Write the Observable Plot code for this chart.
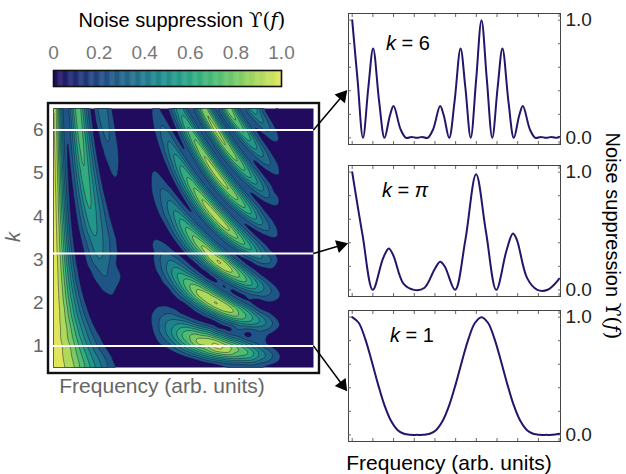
<!DOCTYPE html>
<html><head><meta charset="utf-8">
<script src="https://cdn.jsdelivr.net/npm/d3@7"></script>
<script src="https://cdn.jsdelivr.net/npm/@observablehq/plot@0.6"></script>
<style>
body{margin:0;background:#fff;}
#root{position:relative;width:626px;height:474px;overflow:hidden;font-family:"Liberation Sans",Arial,sans-serif;background:#fff;}
#root svg{position:absolute;overflow:visible;}
.math{font-family:"DejaVu Serif",serif;}
</style></head><body><div id="root"></div>
<script>
// ---------- data ----------
const colorTicks = [0, 0.2, 0.4, 0.6, 0.8, 1.0];
const kTicks = [1, 2, 3, 4, 5, 6];
const contourLevels = [0.1, 0.2, 0.3, 0.4, 0.5, 0.6, 0.7, 0.8, 0.9];
const markedK = [6, Math.PI, 1];
const panelNames = ["6", "π", "1"];
const freqTicks = [0, 0.16, 0.32, 0.48, 0.64, 0.8, 0.96, 1.12, 1.28, 1.44, 1.6];
const valueTicks = [0, 0.2, 0.4, 0.6, 0.8, 1.0];
const rampColors = ["#200b5e","#1f2c73","#1f4782","#1f6189","#1e798c","#1f908b","#29a684","#47b975","#74c965","#abd85b","#e0e55b"];

// line panels: [frequency, suppression]
const curveK6 = [[0,1],[0.0417,0.49],[0.0833,0],[0.125,0.43],[0.162,0.76],[0.2083,0.31],[0.25,0],[0.2917,0.19],[0.32,0.27],[0.375,0.07],[0.4167,0],[0.4583,0.008],[0.5,0],[0.5417,0.008],[0.5833,0],[0.625,0.07],[0.68,0.27],[0.7083,0.19],[0.75,0],[0.7917,0.31],[0.838,0.76],[0.875,0.43],[0.9167,0],[0.9583,0.49],[1,1],[1.0417,0.49],[1.0833,0],[1.125,0.43],[1.162,0.76],[1.2083,0.31],[1.25,0],[1.2917,0.19],[1.32,0.27],[1.375,0.07],[1.4167,0],[1.4583,0.008],[1.5,0],[1.5417,0.008],[1.5833,0],[1.6,0.009]];
const curveKpi = [[0,1],[0.0796,0.469],[0.159,0],[0.2387,0.268],[0.283,0.352],[0.3183,0.292],[0.3979,0.05],[0.4775,0],[0.557,0.016],[0.6366,0.173],[0.68,0.239],[0.716,0.198],[0.7958,0],[0.8754,0.425],[0.958,0.982],[1.0345,0.494],[1.114,0],[1.194,0.337],[1.243,0.478],[1.273,0.427],[1.353,0.0995],[1.432,0],[1.512,0.001],[1.5915,0.08],[1.6,0.095]];
const curveK1 = [[0,1],[0.05,0.952],[0.1,0.818],[0.15,0.63],[0.2,0.429],[0.25,0.25],[0.3,0.119],[0.35,0.042],[0.4,0.009],[0.45,0.0006],[0.5,0],[0.55,0.0006],[0.6,0.009],[0.65,0.042],[0.7,0.119],[0.75,0.25],[0.8,0.429],[0.85,0.63],[0.9,0.818],[0.95,0.952],[1,1],[1.05,0.952],[1.1,0.818],[1.15,0.63],[1.2,0.429],[1.25,0.25],[1.3,0.119],[1.35,0.042],[1.4,0.009],[1.45,0.0006],[1.5,0],[1.55,0.0006],[1.6,0.009]];

// heat map: rows of k, each with [frequency, suppression] crests and troughs
const heatK = [0.5,0.625,0.75,0.875,1,1.125,1.25,1.375,1.5,1.625,1.75,1.875,2,2.125,2.25,2.375,2.5,2.625,2.75,2.875,3,3.125,3.25,3.375,3.5,3.625,3.75,3.875,4,4.125,4.25,4.375,4.5,4.625,4.75,4.875,5,5.125,5.25,5.375,5.5,5.625,5.75,5.875,6,6.125,6.25,6.375,6.5];
const heatProfiles = [
 [[0,1],[0.125,0.82],[0.25,0.43],[0.375,0.11],[0.5,0],[1.0,0],[1.25,0.07],[1.5,0],[1.6,0]],
 [[0,1],[0.125,0.8],[0.25,0.39],[0.375,0.08],[0.5,0],[0.8,0],[0.9,0.035],[1.0,0.15],[1.1,0.28],[1.2,0.33],[1.3,0.24],[1.4,0.08],[1.5,0],[1.6,0]],
 [[0,1],[0.125,0.78],[0.25,0.35],[0.375,0.06],[0.5,0],[0.667,0],[0.8,0.06],[0.9,0.24],[1.0,0.5],[1.1,0.66],[1.2,0.59],[1.3,0.34],[1.4,0.09],[1.5,0],[1.6,0]],
 [[0,1],[0.125,0.76],[0.25,0.3],[0.375,0.04],[0.5,0],[0.6,0],[0.7,0.04],[0.8,0.23],[0.9,0.56],[1.0,0.85],[1.07,0.91],[1.2,0.64],[1.3,0.28],[1.4,0.06],[1.5,0],[1.6,0]],
 [[0,1],[0.1,0.82],[0.2,0.43],[0.25,0.25],[0.3,0.12],[0.4,0.01],[0.5,0],[0.6,0.01],[0.7,0.12],[0.8,0.43],[0.9,0.82],[1.0,1],[1.1,0.82],[1.2,0.43],[1.3,0.12],[1.4,0.01],[1.5,0],[1.6,0.01]],
 [[0,1],[0.111,0.75],[0.222,0.29],[0.333,0.04],[0.444,0],[0.5,0],[0.6,0.03],[0.7,0.21],[0.8,0.59],[0.9,0.9],[0.95,0.93],[1.0,0.85],[1.1,0.48],[1.2,0.14],[1.333,0],[1.5,0],[1.6,0]],
 [[0,1],[0.1,0.77],[0.2,0.33],[0.3,0.05],[0.4,0],[0.5,0],[0.6,0.05],[0.7,0.3],[0.8,0.66],[0.875,0.78],[0.95,0.67],[1.0,0.5],[1.1,0.13],[1.2,0],[1.35,0.05],[1.5,0],[1.6,0]],
 [[0,1],[0.091,0.79],[0.182,0.36],[0.273,0.06],[0.364,0],[0.5,0],[0.6,0.07],[0.7,0.34],[0.825,0.6],[0.9,0.48],[1.0,0.15],[1.091,0],[1.2,0.14],[1.28,0.21],[1.4,0.09],[1.5,0],[1.6,0]],
 [[0,1],[0.1,0.72],[0.167,0.38],[0.25,0.07],[0.333,0],[0.5,0],[0.6,0.09],[0.7,0.34],[0.775,0.44],[0.85,0.33],[0.9,0.19],[1.0,0],[1.1,0.19],[1.15,0.33],[1.225,0.44],[1.3,0.34],[1.4,0.09],[1.5,0],[1.6,0]],
 [[0,1],[0.077,0.8],[0.154,0.39],[0.231,0.08],[0.308,0],[0.5,0],[0.6,0.09],[0.65,0.2],[0.73,0.3],[0.8,0.23],[0.85,0.1],[0.923,0],[1.0,0.15],[1.05,0.36],[1.1,0.56],[1.16,0.67],[1.25,0.5],[1.3,0.3],[1.4,0.04],[1.5,0],[1.6,0]],
 [[0,1],[0.07,0.82],[0.143,0.4],[0.21,0.1],[0.286,0],[0.4,0.03],[0.5,0],[0.6,0.09],[0.69,0.2],[0.8,0.06],[0.857,0],[0.95,0.24],[1.0,0.5],[1.05,0.75],[1.1,0.86],[1.2,0.59],[1.3,0.15],[1.429,0],[1.5,0],[1.6,0]],
 [[0,1],[0.067,0.82],[0.133,0.42],[0.2,0.1],[0.267,0],[0.4,0.05],[0.5,0],[0.65,0.12],[0.8,0],[0.85,0.07],[0.9,0.28],[0.95,0.59],[1.0,0.85],[1.05,0.97],[1.1,0.87],[1.15,0.62],[1.2,0.33],[1.25,0.11],[1.333,0],[1.5,0],[1.6,0]],
 [[0,1],[0.06,0.83],[0.125,0.43],[0.19,0.09],[0.25,0],[0.375,0.07],[0.5,0],[0.625,0.07],[0.75,0],[0.8,0.06],[0.85,0.27],[0.9,0.59],[0.95,0.88],[1.0,1],[1.05,0.88],[1.1,0.59],[1.15,0.27],[1.2,0.06],[1.25,0],[1.375,0.07],[1.5,0],[1.6,0]],
 [[0,1],[0.059,0.82],[0.118,0.43],[0.176,0.11],[0.235,0],[0.36,0.1],[0.5,0],[0.706,0],[0.8,0.23],[0.85,0.53],[0.9,0.84],[0.95,0.97],[1.0,0.85],[1.05,0.55],[1.1,0.22],[1.176,0],[1.25,0.11],[1.31,0.19],[1.4,0.09],[1.5,0],[1.6,0]],
 [[0,1],[0.055,0.83],[0.111,0.44],[0.17,0.1],[0.222,0],[0.35,0.12],[0.5,0],[0.667,0],[0.75,0.16],[0.8,0.43],[0.85,0.73],[0.905,0.9],[0.95,0.8],[1.0,0.5],[1.05,0.17],[1.111,0],[1.2,0.23],[1.26,0.35],[1.35,0.2],[1.4,0.08],[1.5,0],[1.6,0]],
 [[0,1],[0.053,0.83],[0.105,0.45],[0.158,0.11],[0.2105,0],[0.335,0.16],[0.5,0],[0.632,0],[0.7,0.08],[0.75,0.3],[0.8,0.59],[0.87,0.8],[0.9,0.74],[0.95,0.47],[1.0,0.15],[1.053,0],[1.1,0.11],[1.15,0.35],[1.22,0.53],[1.3,0.32],[1.35,0.13],[1.474,0],[1.5,0],[1.6,0]],
 [[0,1],[0.05,0.83],[0.1,0.45],[0.15,0.12],[0.2,0],[0.33,0.19],[0.5,0],[0.6,0],[0.7,0.17],[0.75,0.43],[0.825,0.7],[0.9,0.45],[0.95,0.14],[1.0,0],[1.05,0.14],[1.1,0.45],[1.175,0.7],[1.25,0.43],[1.3,0.17],[1.4,0],[1.5,0],[1.6,0]],
 [[0,1],[0.048,0.835],[0.095,0.46],[0.143,0.12],[0.19,0],[0.32,0.22],[0.5,0],[0.571,0],[0.65,0.08],[0.7,0.26],[0.75,0.5],[0.79,0.59],[0.85,0.44],[0.9,0.16],[0.952,0],[1.0,0.15],[1.05,0.5],[1.12,0.81],[1.2,0.52],[1.25,0.2],[1.333,0],[1.5,0],[1.6,0]],
 [[0,1],[0.045,0.84],[0.091,0.46],[0.136,0.14],[0.182,0],[0.305,0.25],[0.5,0],[0.545,0],[0.65,0.13],[0.7,0.33],[0.765,0.49],[0.85,0.19],[0.909,0],[0.95,0.12],[1.0,0.5],[1.05,0.86],[1.08,0.93],[1.15,0.61],[1.2,0.23],[1.273,0],[1.35,0.08],[1.5,0],[1.6,0]],
 [[0,1],[0.0435,0.84],[0.087,0.46],[0.13,0.12],[0.174,0],[0.3,0.28],[0.5,0],[0.522,0],[0.65,0.17],[0.735,0.4],[0.8,0.23],[0.87,0],[0.95,0.43],[1.0,0.85],[1.04,0.98],[1.1,0.69],[1.15,0.26],[1.217,0],[1.335,0.19],[1.5,0],[1.6,0]],
 [[0,1],[0.04,0.85],[0.083,0.47],[0.125,0.14],[0.167,0],[0.25,0.25],[0.29,0.32],[0.35,0.2],[0.4,0.06],[0.5,0],[0.6,0.06],[0.65,0.2],[0.71,0.32],[0.75,0.25],[0.833,0],[0.9,0.31],[0.95,0.78],[1.0,1],[1.05,0.78],[1.1,0.31],[1.167,0],[1.25,0.25],[1.29,0.32],[1.35,0.2],[1.4,0.06],[1.5,0],[1.6,0]],
 [[0,1],[0.04,0.84],[0.08,0.47],[0.12,0.13],[0.16,0],[0.28,0.35],[0.48,0],[0.5,0],[0.685,0.25],[0.8,0],[0.962,0.98],[1.12,0],[1.25,0.46],[1.44,0],[1.5,0],[1.6,0]],
 [[0,1],[0.038,0.84],[0.077,0.47],[0.115,0.14],[0.154,0],[0.27,0.38],[0.462,0],[0.5,0],[0.67,0.19],[0.769,0],[0.93,0.95],[1.077,0],[1.21,0.6],[1.385,0],[1.5,0],[1.6,0]],
 [[0,1],[0.037,0.84],[0.074,0.47],[0.111,0.13],[0.148,0],[0.265,0.4],[0.444,0],[0.5,0],[0.645,0.14],[0.741,0],[0.899,0.89],[1.037,0],[1.167,0.72],[1.333,0],[1.5,0],[1.6,0]],
 [[0,1],[0.036,0.84],[0.071,0.48],[0.107,0.14],[0.143,0],[0.258,0.43],[0.429,0],[0.5,0],[0.62,0.1],[0.714,0],[0.87,0.82],[1.0,0],[1.13,0.82],[1.286,0],[1.38,0.1],[1.5,0],[1.6,0]],
 [[0,1],[0.0345,0.845],[0.069,0.48],[0.103,0.13],[0.138,0],[0.25,0.46],[0.414,0],[0.5,0],[0.69,0],[0.843,0.76],[0.966,0],[1.095,0.91],[1.241,0],[1.34,0.19],[1.5,0],[1.6,0]],
 [[0,1],[0.033,0.85],[0.067,0.48],[0.1,0.14],[0.133,0],[0.242,0.49],[0.4,0],[0.5,0],[0.667,0],[0.816,0.68],[0.933,0],[1.062,0.96],[1.2,0],[1.3,0.3],[1.467,0],[1.5,0],[1.6,0]],
 [[0,1],[0.032,0.845],[0.0645,0.48],[0.097,0.13],[0.129,0],[0.236,0.51],[0.387,0],[0.5,0],[0.645,0],[0.792,0.61],[0.903,0],[1.031,0.99],[1.161,0],[1.263,0.42],[1.419,0],[1.5,0],[1.6,0]],
 [[0,1],[0.031,0.85],[0.063,0.48],[0.094,0.14],[0.125,0],[0.23,0.53],[0.375,0],[0.5,0],[0.625,0],[0.77,0.53],[0.875,0],[1.0,1],[1.125,0],[1.23,0.53],[1.375,0],[1.5,0],[1.6,0]],
 [[0,1],[0.03,0.846],[0.0606,0.48],[0.091,0.13],[0.121,0],[0.225,0.55],[0.364,0],[0.5,0],[0.606,0],[0.748,0.46],[0.848,0],[0.971,0.99],[1.091,0],[1.197,0.64],[1.333,0],[1.5,0],[1.6,0]],
 [[0,1],[0.029,0.85],[0.059,0.48],[0.088,0.14],[0.118,0],[0.219,0.57],[0.353,0],[0.5,0],[0.588,0],[0.73,0.4],[0.824,0],[0.944,0.97],[1.059,0],[1.165,0.74],[1.294,0],[1.375,0.11],[1.5,0],[1.6,0]],
 [[0,1],[0.0286,0.847],[0.057,0.48],[0.086,0.14],[0.114,0],[0.214,0.59],[0.343,0],[0.5,0],[0.571,0],[0.711,0.34],[0.8,0],[0.919,0.93],[1.029,0],[1.135,0.82],[1.257,0],[1.345,0.19],[1.486,0],[1.5,0],[1.6,0]],
 [[0,1],[0.028,0.85],[0.056,0.49],[0.083,0.14],[0.111,0],[0.209,0.61],[0.333,0],[0.5,0],[0.556,0],[0.695,0.29],[0.778,0],[0.895,0.89],[1.0,0],[1.105,0.89],[1.222,0],[1.305,0.29],[1.444,0],[1.5,0],[1.6,0]],
 [[0,1],[0.027,0.85],[0.054,0.49],[0.081,0.14],[0.108,0],[0.204,0.62],[0.324,0],[0.5,0],[0.541,0],[0.67,0.235],[0.757,0],[0.872,0.82],[0.973,0],[1.077,0.94],[1.189,0],[1.277,0.385],[1.405,0],[1.5,0],[1.6,0]],
 [[0,1],[0.026,0.85],[0.053,0.49],[0.079,0.14],[0.105,0],[0.2,0.64],[0.316,0],[0.39,0.09],[0.5,0],[0.526,0],[0.66,0.2],[0.737,0],[0.85,0.79],[0.947,0],[1.05,0.97],[1.158,0],[1.248,0.48],[1.368,0],[1.5,0],[1.6,0]],
 [[0,1],[0.0256,0.85],[0.0513,0.49],[0.077,0.14],[0.1026,0],[0.195,0.655],[0.3077,0],[0.38,0.11],[0.5,0],[0.5128,0],[0.643,0.157],[0.718,0],[0.829,0.705],[0.923,0],[1.025,0.99],[1.128,0],[1.219,0.58],[1.333,0],[1.5,0],[1.6,0]],
 [[0,1],[0.025,0.85],[0.05,0.49],[0.075,0.14],[0.1,0],[0.19,0.67],[0.3,0],[0.37,0.13],[0.5,0],[0.63,0.13],[0.7,0],[0.81,0.67],[0.9,0],[1.0,1],[1.1,0],[1.19,0.67],[1.3,0],[1.37,0.13],[1.5,0],[1.6,0]],
 [[0,1],[0.0244,0.85],[0.0488,0.49],[0.073,0.14],[0.0976,0],[0.187,0.68],[0.2927,0],[0.365,0.14],[0.4878,0],[0.5,0],[0.615,0.1],[0.683,0],[0.79,0.61],[0.878,0],[0.976,0.99],[1.073,0],[1.164,0.76],[1.268,0],[1.345,0.2],[1.463,0],[1.5,0],[1.6,0]],
 [[0,1],[0.024,0.85],[0.048,0.49],[0.071,0.14],[0.095,0],[0.182,0.7],[0.286,0],[0.36,0.16],[0.476,0],[0.5,0],[0.667,0],[0.773,0.55],[0.857,0],[0.954,0.98],[1.048,0],[1.137,0.82],[1.238,0],[1.313,0.28],[1.429,0],[1.5,0],[1.6,0]],
 [[0,1],[0.023,0.85],[0.0465,0.49],[0.07,0.14],[0.093,0],[0.179,0.71],[0.279,0],[0.35,0.18],[0.465,0],[0.5,0],[0.651,0],[0.756,0.5],[0.837,0],[0.932,0.955],[1.023,0],[1.112,0.88],[1.209,0],[1.287,0.36],[1.395,0],[1.5,0],[1.6,0]],
 [[0,1],[0.023,0.85],[0.045,0.49],[0.068,0.14],[0.091,0],[0.175,0.72],[0.273,0],[0.345,0.2],[0.455,0],[0.5,0],[0.636,0],[0.739,0.45],[0.818,0],[0.912,0.92],[1.0,0],[1.088,0.92],[1.182,0],[1.261,0.45],[1.364,0],[1.5,0],[1.6,0]],
 [[0,1],[0.022,0.85],[0.0444,0.49],[0.0667,0.14],[0.0889,0],[0.172,0.73],[0.2667,0],[0.34,0.215],[0.4444,0],[0.5,0],[0.622,0],[0.724,0.4],[0.8,0],[0.893,0.886],[0.978,0],[1.065,0.96],[1.156,0],[1.234,0.53],[1.333,0],[1.5,0],[1.6,0]],
 [[0,1],[0.022,0.85],[0.0435,0.49],[0.065,0.14],[0.087,0],[0.168,0.75],[0.261,0],[0.329,0.24],[0.435,0],[0.5,0],[0.609,0],[0.71,0.35],[0.783,0],[0.874,0.85],[0.957,0],[1.042,0.98],[1.13,0],[1.209,0.61],[1.304,0],[1.372,0.13],[1.478,0],[1.5,0],[1.6,0]],
 [[0,1],[0.0213,0.85],[0.0426,0.49],[0.0638,0.14],[0.0851,0],[0.165,0.75],[0.2553,0],[0.324,0.25],[0.4255,0],[0.5,0],[0.5957,0],[0.695,0.33],[0.766,0],[0.856,0.8],[0.936,0],[1.021,0.99],[1.106,0],[1.185,0.69],[1.277,0],[1.345,0.2],[1.447,0],[1.5,0],[1.6,0]],
 [[0,1],[0.021,0.85],[0.042,0.49],[0.0625,0.14],[0.083,0],[0.162,0.76],[0.25,0],[0.32,0.27],[0.417,0],[0.5,0],[0.583,0],[0.68,0.27],[0.75,0],[0.838,0.76],[0.917,0],[1.0,1],[1.083,0],[1.162,0.76],[1.25,0],[1.32,0.27],[1.417,0],[1.5,0],[1.6,0]],
 [[0,1],[0.0204,0.85],[0.0408,0.49],[0.0612,0.14],[0.0816,0],[0.1585,0.77],[0.2449,0],[0.3125,0.29],[0.4082,0],[0.5,0],[0.5714,0],[0.669,0.233],[0.7347,0],[0.822,0.69],[0.898,0],[0.98,0.99],[1.0612,0],[1.139,0.81],[1.2245,0],[1.294,0.35],[1.3878,0],[1.5,0],[1.6,0]],
 [[0,1],[0.02,0.85],[0.04,0.49],[0.06,0.14],[0.08,0],[0.156,0.78],[0.24,0],[0.307,0.31],[0.4,0],[0.5,0],[0.56,0],[0.657,0.2],[0.72,0],[0.806,0.66],[0.88,0],[0.961,0.98],[1.04,0],[1.117,0.87],[1.2,0],[1.27,0.42],[1.36,0],[1.5,0],[1.6,0]],
 [[0,1],[0.0196,0.85],[0.0392,0.49],[0.0588,0.14],[0.0784,0],[0.1527,0.78],[0.2353,0],[0.302,0.31],[0.3922,0],[0.5,0],[0.549,0],[0.643,0.17],[0.706,0],[0.79,0.57],[0.863,0],[0.942,0.97],[1.0196,0],[1.096,0.91],[1.176,0],[1.247,0.5],[1.333,0],[1.39,0.09],[1.49,0],[1.5,0],[1.6,0]],
 [[0,1],[0.019,0.85],[0.0385,0.49],[0.058,0.14],[0.077,0],[0.15,0.79],[0.231,0],[0.30,0.34],[0.385,0],[0.5,0],[0.538,0],[0.633,0.14],[0.692,0],[0.776,0.57],[0.846,0],[0.925,0.94],[1.0,0],[1.075,0.94],[1.154,0],[1.224,0.57],[1.308,0],[1.367,0.14],[1.462,0],[1.5,0],[1.6,0]]
];

// ---------- build ----------
const root = document.getElementById("root");
const ramp = d3.piecewise(d3.interpolateRgb, rampColors);
const bandColors = contourLevels.map(t => ramp(0.25 + (t - 0.1) / 0.8 * 0.75));
const FONT = "Liberation Sans, Arial, sans-serif";
function put(svg, left, top) { svg.style.left = left + "px"; svg.style.top = top + "px"; root.appendChild(svg); return svg; }
function label(html, cx, cy, size, color, rotate = 0) {
  const d = document.createElement("div");
  d.innerHTML = html;
  d.style.cssText = `position:absolute;left:${cx}px;top:${cy}px;transform:translate(-50%,-50%) rotate(${rotate}deg);font-size:${size}px;color:${color};white-space:nowrap;line-height:1;`;
  root.appendChild(d);
}
const UPS = `<span class="math">ϒ(<i>f</i>)</span>`;

// colour bar
const cbSteps = d3.range(0, 1, 0.004);
put(Plot.plot({
  width: 330, height: 92, marginLeft: 53, marginRight: 49, marginTop: 70, marginBottom: 6,
  style: {fontFamily: FONT, background: "transparent"},
  x: {domain: [0, 1], axis: null}, y: {domain: [0, 1], axis: null},
  color: {type: "linear", domain: [0, 1], interpolate: ramp},
  marks: [
    Plot.rect(cbSteps, {x1: d => d, x2: d => d + 0.0055, y1: 0, y2: 1, fill: d => d + 0.002}),
    Plot.frame({stroke: "#111", strokeWidth: 1.6}),
    Plot.axisX(colorTicks, {anchor: "top", tickSize: 0, tickPadding: 12, tickFormat: d => d === 0 ? "0" : d.toFixed(1), fontSize: 19, fill: "#777"})
  ]
}), 0, 0);
label(`Noise suppression ${UPS}`, 182, 20, 20, "#000");

// heat map
const heatPoints = heatK.flatMap((k, i) => heatProfiles[i].map(([u, v]) => ({u, k, v})));
const heat = put(Plot.plot({
  width: 330, height: 300, marginLeft: 53, marginRight: 17, marginTop: 13, marginBottom: 28,
  style: {fontFamily: FONT, background: "transparent"},
  x: {domain: [0, 1.6], axis: null},
  y: {domain: [0.5, 6.5], axis: null},
  color: {type: "ordinal", domain: contourLevels, range: bandColors},
  marks: [
    Plot.frame({fill: rampColors[0], stroke: null}),
    Plot.contour(heatPoints, {x: "u", y: "k", fill: "v", interpolate: "barycentric", thresholds: contourLevels, pixelSize: 1, blur: 2, stroke: "#15152a", strokeWidth: 0.6, strokeOpacity: 0.75}),
    Plot.ruleY(markedK, {stroke: "white", strokeWidth: 2}),
    Plot.frame({inset: -5.5, stroke: "#111", strokeWidth: 2.4}),
    Plot.axisY(kTicks, {anchor: "left", tickSize: 0, tickPadding: 10, fontSize: 19, fill: "#666", label: null})
  ]
}), 0, 95);
label(`<i>k</i>`, 13, 237, 20, "#666", -90);
label(`Frequency (arb. units)`, 162, 385, 21, "#666");

// right-hand panels
const panelTops = [0, 152, 297];
const curves = [curveK6, curveKpi, curveK1];
curves.forEach((c, i) => put(Plot.plot({
  width: 270, height: 150, marginLeft: 18, marginRight: 40, marginTop: 13, marginBottom: 6,
  style: {fontFamily: FONT, background: "transparent"},
  x: {domain: [-0.0286, 1.611], axis: null},
  y: {domain: [-0.0564, 1.0564], axis: null},
  marks: [
    Plot.frame({stroke: "#444", strokeWidth: 1}),
    Plot.axisX(freqTicks, {anchor: "bottom", tickSize: -3, tickFormat: () => "", stroke: "#666"}),
    Plot.axisX(freqTicks, {anchor: "top", tickSize: -3, tickFormat: () => "", stroke: "#666"}),
    Plot.axisY(valueTicks, {anchor: "left", tickSize: -3, tickFormat: () => "", stroke: "#666"}),
    Plot.axisY(valueTicks, {anchor: "right", tickSize: -3, tickFormat: () => "", stroke: "#666"}),
    Plot.axisY([0, 1], {anchor: "right", tickSize: 0, tickPadding: 5, tickFormat: d => d.toFixed(1), fontSize: 19, fill: "#222", label: null}),
    Plot.line(c, {x: d => d[0], y: d => d[1], curve: "catmull-rom", stroke: "#24146a", strokeWidth: 2})
  ]
}), 330, panelTops[i]));
const labelPos = [[408, 43], [405, 190], [412, 335]];
panelNames.forEach((n, i) => label(`<i>k</i> = ${n === "π" ? "<i>π</i>" : n}`, labelPos[i][0], labelPos[i][1], 20, "#000"));
label(`Noise suppression ${UPS}`, 613, 236, 20, "#000", 90);
label(`Frequency (arb. units)`, 449, 462, 21, "#000");

// arrows from the marked rows to their panels (shaft + filled head)
const hy = heat.scale("y"), hx = heat.scale("x");
const arrows = markedK.map((k, i) => {
  const x1 = hx.apply(1.6), y1 = 95 + hy.apply(k);
  const x2 = 330 + 18 - 3, y2 = panelTops[i] + 13 + 0.6 * 131;
  const a = Math.atan2(y2 - y1, x2 - x1);
  return {x1, y1, x2, y2, hx: x2 - 5 * Math.cos(a), hy: y2 - 5 * Math.sin(a), rot: a * 180 / Math.PI + 90,
          sx: x2 - 7 * Math.cos(a), sy: y2 - 7 * Math.sin(a)};
});
const overlay = put(Plot.plot({
  width: 626, height: 474, margin: 0,
  style: {background: "transparent"},
  x: {type: "identity", axis: null}, y: {type: "identity", axis: null},
  marks: [
    Plot.link(arrows, {x1: "x1", y1: "y1", x2: "sx", y2: "sy", stroke: "#000", strokeWidth: 1.5}),
    Plot.dot(arrows, {x: "hx", y: "hy", symbol: "triangle", r: 5, fill: "#000", stroke: null, rotate: "rot"})
  ]
}), 0, 0);
overlay.style.pointerEvents = "none";
</script></body></html>
